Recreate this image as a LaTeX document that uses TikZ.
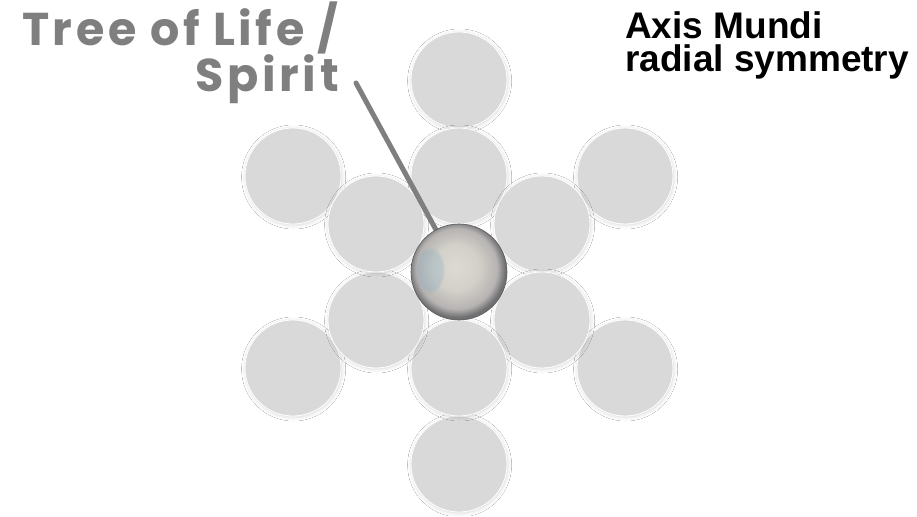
\documentclass[tikz,border=0pt]{standalone}
\usepackage{fontspec}
\setmainfont{Liberation Sans}
\newfontfamily\poppins{Poppins}[LetterSpace=8]
\usetikzlibrary{shadows.blur,fadings}
\definecolor{discgray}{HTML}{D9D9D9}
\definecolor{labelgray}{HTML}{7F7F7F}
\definecolor{sphA}{HTML}{DCDAD2}
\definecolor{sphB}{HTML}{D2D0C9}
\definecolor{sphC}{HTML}{B6B3B2}
\definecolor{sphD}{HTML}{707072}
\definecolor{tintblue}{HTML}{7FA8BE}
\pgfdeclareradialshading{spherish}{\pgfpoint{-2bp}{3bp}}{color(0bp)=(sphA); color(12bp)=(sphB); color(21bp)=(sphC); color(25bp)=(sphD); color(50bp)=(sphD)}
\tikzset{
  disc/.style={circle, minimum size=96pt, inner sep=0pt, fill=discgray, draw=white, line width=0.8pt,
    blur shadow={shadow xshift=0.6pt, shadow yshift=-1pt, shadow blur steps=12, shadow opacity=16, shadow blur radius=4pt}},
  core/.style={circle, minimum size=96pt, inner sep=0pt, shading=spherish, draw=sphD!80!black, line width=0.6pt},
  pointer/.style={draw=labelgray, line width=5pt, line cap=round},
  title/.style={font=\bfseries\fontsize{37}{33}\selectfont, text=black, align=left, inner sep=0pt},
  treelabel/.style={font=\poppins\bfseries\fontsize{46}{35}\selectfont, text=labelgray, align=right, inner sep=0pt}
}
\begin{document}
\begin{tikzpicture}[x=1pt,y=-1pt]
\useasboundingbox[fill=white] (0,0) rectangle (917,516);
% outer ring
\node[disc] (o1) at (459,80) {};
\node[disc] (o2) at (625,176) {};
\node[disc] (o3) at (625,368) {};
\node[disc] (o4) at (459,464) {};
\node[disc] (o5) at (293,368) {};
\node[disc] (o6) at (293,176) {};
% inner ring
\node[disc] (i1) at (459,176) {};
\node[disc] (i2) at (542,224) {};
\node[disc] (i3) at (542,320) {};
\node[disc] (i4) at (459,368) {};
\node[disc] (i5) at (376,320) {};
\node[disc] (i6) at (376,224) {};
% label
\node[treelabel, anchor=base east] (lbl) at (339,92) {Tree of Life /\\Spirit};
\coordinate (lstart) at (356,83);
\coordinate (hub) at (459,272);
\draw[pointer] (lstart) -- (hub);
% centre sphere
\node[core] (sphere) at (hub) {};
\fill[tintblue, opacity=0.28, path fading=circle with fuzzy edge 20 percent] ([xshift=-29pt,yshift=2pt]hub) ellipse (15pt and 24pt);
% title
\node[title, anchor=base west] (ttl) at (625,72) {Axis Mundi\\radial symmetry};
\end{tikzpicture}
\end{document}
